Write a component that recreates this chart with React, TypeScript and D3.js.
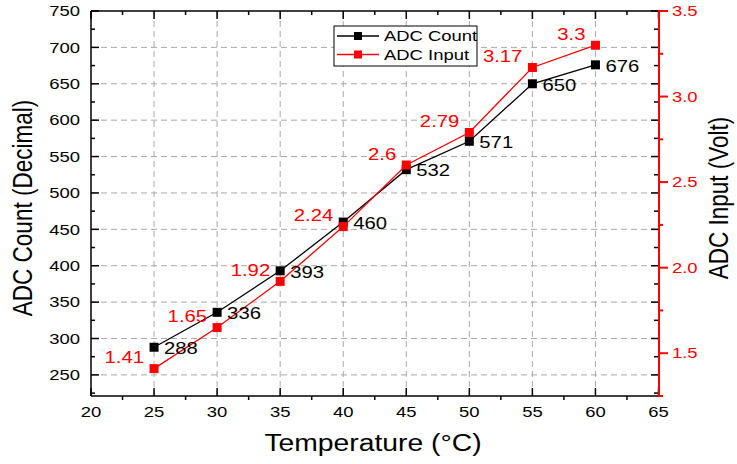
import * as d3 from 'd3';

const temperature = [25, 30, 35, 40, 45, 50, 55, 60];
const adcCount = [288, 336, 393, 460, 532, 571, 650, 676];
const adcInput = [1.41, 1.65, 1.92, 2.24, 2.6, 2.79, 3.17, 3.3];
const adcInputLabels = ['1.41', '1.65', '1.92', '2.24', '2.6', '2.79', '3.17', '3.3'];

const xTicks = [20, 25, 30, 35, 40, 45, 50, 55, 60, 65];
const countTicks = [250, 300, 350, 400, 450, 500, 550, 600, 650, 700, 750];
const voltTicks = ['1.5', '2.0', '2.5', '3.0', '3.5'];

const W = 737;
const H = 464;
const FONT = '"Liberation Sans", Arial, sans-serif';
const SX = 1.23; // the picture is stretched sideways

const left = 91, right = 659, top = 11, bottom = 396;

const x = d3.scaleLinear().domain([20, 65]).range([left, right - 0.5]);
const yL = d3.scaleLinear().domain([221, 750]).range([bottom, top]);
const yR = d3.scaleLinear().domain([1.25, 3.5]).range([bottom, top]);

function Label({ x, y, anchor = 'start', size = 15, fill = '#000', children }: any) {
  return (
    <text
      transform={`translate(${x},${y}) scale(${SX},1)`}
      textAnchor={anchor}
      dy="0.35em"
      fontSize={size}
      fill={fill}
      fontFamily={FONT}
    >
      {children}
    </text>
  );
}

export default function App() {
  const countLine = d3.line<number>().x((_, i) => x(temperature[i])).y(d => yL(d));
  const inputLine = d3.line<number>().x((_, i) => x(temperature[i])).y(d => yR(d));

  const xMinor = xTicks.slice(0, -1).map(t => t + 2.5);
  const countMinor = [225, ...countTicks.slice(0, -1).map(t => t + 25)];
  const voltMinor = voltTicks.slice(0, -1).map(t => +t + 0.25);
  const gridX = xTicks.slice(1, -1);
  const gridY = countTicks.slice(0, -1);

  const ms = 9;

  return (
    <svg width={W} height={H} style={{ position: 'absolute', left: 0, top: 0, background: '#fff' }}>
      {/* grid */}
      <g stroke="#a8a8a8" strokeWidth={1} strokeDasharray="6,4">
        {gridX.map(t => (
          <line key={'gx' + t} x1={x(t)} x2={x(t)} y1={top} y2={bottom} />
        ))}
        {gridY.map(t => (
          <line key={'gy' + t} x1={left} x2={right} y1={yL(t)} y2={yL(t)} />
        ))}
      </g>

      {/* frame ticks */}
      <g stroke="#000" strokeWidth={1.5}>
        {xTicks.map(t => (
          <g key={'xt' + t}>
            <line x1={x(t)} x2={x(t)} y1={bottom} y2={bottom - 8} />
            <line x1={x(t)} x2={x(t)} y1={top} y2={top + 8} />
          </g>
        ))}
        {xMinor.map(t => (
          <g key={'xm' + t}>
            <line x1={x(t)} x2={x(t)} y1={bottom} y2={bottom + 4} />
            <line x1={x(t)} x2={x(t)} y1={top} y2={top + 4} />
          </g>
        ))}
        {countTicks.map(t => (
          <g key={'yt' + t}>
            <line x1={left} x2={left + 8} y1={yL(t)} y2={yL(t)} />
            <line x1={right} x2={right - 8} y1={yL(t)} y2={yL(t)} />
          </g>
        ))}
        {countMinor.map(t => (
          <g key={'ym' + t}>
            <line x1={left} x2={left + 4} y1={yL(t)} y2={yL(t)} />
            <line x1={right} x2={right - 5} y1={yL(t)} y2={yL(t)} />
          </g>
        ))}
        <line x1={left} x2={right} y1={top} y2={top} />
        <line x1={left} x2={right} y1={bottom} y2={bottom} />
        <line x1={left} x2={left} y1={top} y2={bottom} />
      </g>

      {/* right axis */}
      <g stroke="#ff0000" strokeWidth={2}>
        <line x1={right} x2={right} y1={top - 1} y2={bottom + 1} />
        <line x1={right} x2={right + 4} y1={bottom} y2={bottom} />
        {voltTicks.map(t => (
          <line key={'rt' + t} x1={right} x2={right + 9} y1={yR(+t)} y2={yR(+t)} />
        ))}
        {voltMinor.map(t => (
          <line key={'rm' + t} x1={right} x2={right + 4} y1={yR(t)} y2={yR(t)} />
        ))}
      </g>

      {/* tick labels */}
      {xTicks.map(t => (
        <Label key={'xl' + t} x={x(t)} y={412} anchor="middle">{t}</Label>
      ))}
      {countTicks.map(t => (
        <Label key={'yl' + t} x={80} y={yL(t)} anchor="end">{t}</Label>
      ))}
      {voltTicks.map(t => (
        <Label key={'rl' + t} x={672} y={yR(+t)} fill="#ff0000">{t}</Label>
      ))}

      {/* series */}
      <path d={countLine(adcCount) ?? ''} fill="none" stroke="#000" strokeWidth={1.3} />
      {adcCount.map((d, i) => (
        <rect key={'cm' + i} x={x(temperature[i]) - ms / 2} y={yL(d) - ms / 2} width={ms} height={ms} fill="#000" />
      ))}
      <path d={inputLine(adcInput) ?? ''} fill="none" stroke="#ff0000" strokeWidth={1.3} />
      {adcInput.map((d, i) => (
        <rect key={'im' + i} x={x(temperature[i]) - ms / 2} y={yR(d) - ms / 2} width={ms} height={ms} fill="#ff0000" />
      ))}

      {/* data labels */}
      {adcCount.map((d, i) => (
        <Label key={'cl' + i} x={x(temperature[i]) + 10} y={yL(d) + 1} size={16.5}>{d}</Label>
      ))}
      {adcInput.map((d, i) => (
        <Label key={'il' + i} x={x(temperature[i]) - 10} y={yR(d) - 11} size={16.5} anchor="end" fill="#ff0000">
          {adcInputLabels[i]}
        </Label>
      ))}

      {/* legend */}
      <rect x={334} y={26} width={143} height={40} fill="#fff" stroke="#000" strokeWidth={1} />
      <line x1={337} x2={379} y1={36} y2={36} stroke="#000" strokeWidth={1.3} />
      <rect x={358 - 4} y={36 - 4} width={8} height={8} fill="#000" />
      <Label x={384} y={36}>ADC Count</Label>
      <line x1={337} x2={379} y1={54.5} y2={54.5} stroke="#ff0000" strokeWidth={1.3} />
      <rect x={358 - 4} y={54.5 - 4} width={8} height={8} fill="#ff0000" />
      <Label x={384} y={54.5}>ADC Input</Label>

      {/* axis titles */}
      <text
        transform={`translate(373,451) scale(${SX},1)`}
        textAnchor="middle"
        fontSize={23}
        fontFamily={FONT}
      >
        Temperature (°C)
      </text>
      <text
        transform={`translate(32,208) rotate(-90) scale(1,${SX})`}
        textAnchor="middle"
        fontSize={22.5}
        fontFamily={FONT}
      >
        ADC Count (Decimal)
      </text>
      <text
        transform={`translate(728,198) rotate(-90) scale(1,${SX})`}
        textAnchor="middle"
        fontSize={22.5}
        fontFamily={FONT}
      >
        ADC Input (Volt)
      </text>
    </svg>
  );
}
